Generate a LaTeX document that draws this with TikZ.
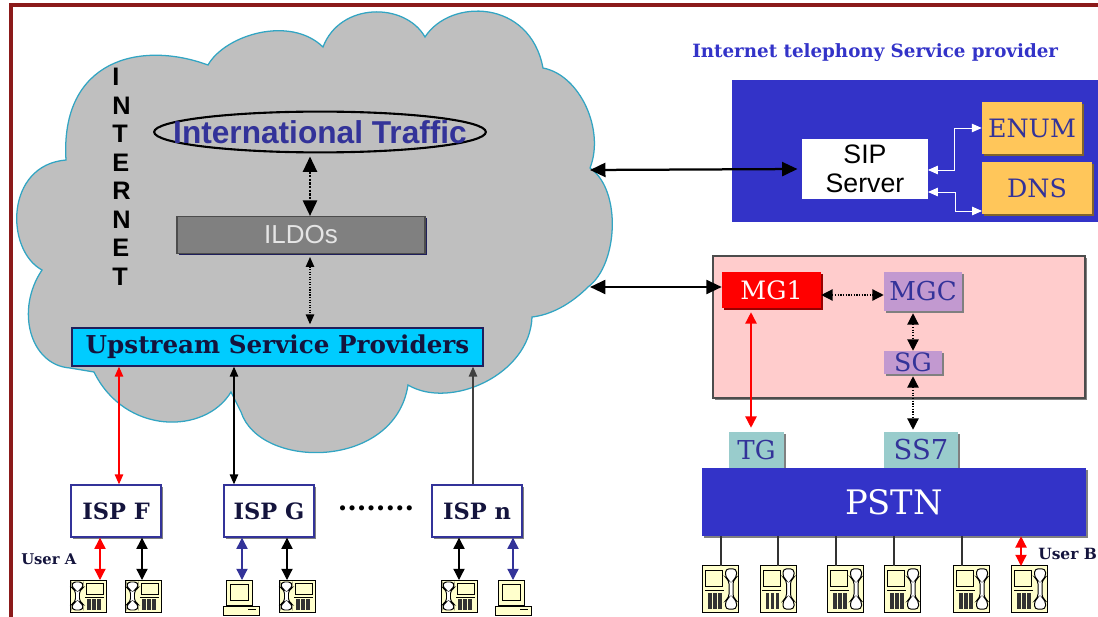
\documentclass[tikz,border=0pt]{standalone}
\usepackage{fontspec}
\setmainfont{DejaVu Serif}
\setsansfont{Liberation Sans}
\usetikzlibrary{positioning,calc,arrows.meta,shadows,shapes.geometric}
\definecolor{frame}{RGB}{139, 26, 26}
\definecolor{cloudfill}{RGB}{191, 191, 191}
\definecolor{cloudline}{RGB}{50, 165, 195}
\definecolor{theme}{RGB}{51, 51, 200}
\definecolor{ink}{RGB}{51, 51, 153}
\definecolor{orangebox}{RGB}{255, 198, 90}
\definecolor{pinkbox}{RGB}{255, 204, 204}
\definecolor{lilacbox}{RGB}{194, 153, 208}
\definecolor{tealbox}{RGB}{153, 204, 204}
\definecolor{skybox}{RGB}{0, 204, 255}
\definecolor{phonefill}{RGB}{255, 255, 204}
\def\px{0.025cm}
\tikzset{
    box/.style n args={2}{minimum width=#1*\px,minimum height=#2*\px,inner sep=0pt,align=center},
    shadowed/.style={drop shadow={shadow xshift=1.8*\px,shadow yshift=-1.8*\px,opacity=1,fill=#1}},
    isp/.style={box={90}{52},draw=ink,line width=1pt,fill=white,shadowed=gray,font=\fontsize{16}{18}\selectfont\bfseries,text=ink!40!black},
    thinarrow/.style={{Triangle[length=7pt,width=6pt]}-{Triangle[length=7pt,width=6pt]},line width=.8pt},
    midarrow/.style={{Triangle[length=8pt,width=8pt]}-{Triangle[length=8pt,width=8pt]},line width=.9pt},
    bigarrow/.style={{Triangle[length=11pt,width=10pt]}-{Triangle[length=11pt,width=10pt]},line width=1.6pt},
    whitearrow/.style={{Triangle[length=7pt,width=6pt]}-{Triangle[length=7pt,width=6pt]},white,line width=.7pt},
    phone/.pic={
        \draw[fill=phonefill,line width=.7pt] (-18,-16) rectangle (18,16);
        \draw[fill=white,line width=.7pt,rounded corners=2.5] (-16,-14) -- (-5,-14) -- (-5,-8) -- (-8.5,-6) -- (-8.5,6) -- (-5,8) -- (-5,14) -- (-16,14) -- (-16,8) -- (-12.5,6) -- (-12.5,-6) -- (-16,-8) -- cycle;
        \draw[fill=phonefill,line width=.7pt] (-2,-13) rectangle (15,-2);
        \draw[line width=.7pt] (-3,1) -- (16,1);
        \foreach \k in {-1,4,9}
            \fill[black!80] (\k,3) rectangle (\k+3.5,14);
    },
    computer/.pic={
        \draw[fill=phonefill,line width=.7pt] (-15,-17) rectangle (11,8);
        \draw[fill=phonefill,line width=.7pt] (-11,-13) rectangle (7,3);
        \draw[fill=phonefill,line width=.7pt] (-18,9) rectangle (18,18);
        \draw[line width=.7pt] (7,12) -- (15,12);
    }
}

\begin{document}
\begin{tikzpicture}[x=0.025cm,y=-0.025cm]
    \useasboundingbox (0,0) rectangle (1098,617);
    % frame
    \draw[frame,line width=2.2pt] (11,617) -- (11,5) -- (1098,5);

    % cloud
    \draw[fill=cloudfill,draw=cloudline,line width=.9pt] (208,65)
        .. controls (225,35) and (290,15) .. (323,47)
        .. controls (340,2) and (405,2) .. (425,37)
        .. controls (450,-2) and (530,-1) .. (543,68)
        .. controls (580,75) and (605,130) .. (590,168)
        .. controls (622,190) and (618,265) .. (588,287)
        .. controls (570,305) and (550,315) .. (532,317)
        .. controls (530,375) and (450,410) .. (408,385)
        .. controls (395,470) and (260,470) .. (241,412)
        -- (231,392)
        .. controls (205,435) and (125,435) .. (94,372)
        -- (70,368)
        .. controls (30,365) and (15,310) .. (42,270)
        .. controls (5,250) and (5,165) .. (66,160)
        .. controls (60,60) and (140,40) .. (208,65) -- cycle;
    \coordinate (cloudsip) at (590,170);
    \coordinate (cloudmg) at (590,287);

    \node[align=left,inner sep=0pt,anchor=north west,font=\sffamily\bfseries\fontsize{18}{20.3}\selectfont] (internet) at (112,68) {I\\N\\T\\E\\R\\N\\E\\T};
    \node[ellipse,draw,line width=1.5pt,inner xsep=-21pt,inner ysep=2pt,text=ink,font=\sffamily\bfseries\fontsize{22.5}{24}\selectfont] (traffic) at (320,132) {International Traffic};
    \node[box={248}{37},draw=black!70,line width=.8pt,fill=black!50,shadowed=ink!60!black,text=white!90!black,font=\sffamily\fontsize{18.5}{20}\selectfont] (ildos) at (301,235) {ILDOs};
    \node[box={411}{38},draw=ink!60!black,line width=1pt,fill=skybox,font=\fontsize{17.5}{19}\selectfont\bfseries,text=ink!40!black] (upstream) at (277.5,347) {Upstream Service Providers};

    % isp row
    \node[isp] (ispf) at (116,511) {ISP F};
    \node[isp] (ispg) at (269,511) {ISP G};
    \node[isp] (ispn) at (477,511) {ISP n};
    \node[inner sep=0pt,font=\fontsize{19.5}{20}\selectfont\bfseries] (dots) at (376,508) {........};
    \node[inner sep=0pt,anchor=west,text=ink!40!black,font=\fontsize{10.5}{12}\selectfont\bfseries] (usera) at (21,559) {User A};

    \pic at (88,596) {phone};
    \pic at (143,596) {phone};
    \pic at (241,597) {computer};
    \pic at (297,596) {phone};
    \pic at (459,596) {phone};
    \pic at (513,597) {computer};
    \coordinate (pa) at (100,580);
    \coordinate (pb) at (142,580);
    \coordinate (pc) at (242,580);
    \coordinate (pd) at (287,580);
    \coordinate (pe) at (459,580);
    \coordinate (pf) at (513,580);

    \draw[thinarrow,red] (ispf.north -| 119,0) -- (upstream.south -| 119,0);
    \draw[thinarrow] (ispg.north -| 234,0) -- (upstream.south -| 234,0);
    \draw[-{Triangle[length=7pt,width=6pt]},line width=.8pt,black!75] (ispn.north -| 473,0) -- (upstream.south -| 473,0);
    \draw[midarrow,red] (ispf.south -| pa) -- (pa);
    \draw[midarrow] (ispf.south -| pb) -- (pb);
    \draw[midarrow,ink] (ispg.south -| pc) -- (pc);
    \draw[midarrow] (ispg.south -| pd) -- (pd);
    \draw[midarrow] (ispn.south -| pe) -- (pe);
    \draw[midarrow,ink] (ispn.south -| pf) -- (pf);

    % inside cloud
    \draw[bigarrow,densely dotted] ($(traffic.south -| 310,0)+(0,3)$) -- (ildos.north -| 310,0);
    \draw[thinarrow,densely dotted] ($(ildos.south -| 310,0)+(0,3)$) -- ($(upstream.north -| 310,0)+(0,-3)$);

    % telephony provider
    \node[anchor=west,inner sep=0pt,text=theme,font=\fontsize{13}{15}\selectfont\bfseries] (title) at (692,53) {Internet telephony Service provider};
    \node[box={366}{142},fill=theme] (provider) at (915,151) {};
    \node[box={126}{60},fill=white,font=\sffamily\fontsize{19}{21}\selectfont] (sip) at (865,169) {SIP\\Server};
    \node[box={100}{52},fill=orangebox,shadowed=orangebox!50!black,text=ink,font=\fontsize{18}{20}\selectfont] (enum) at (1032,128) {ENUM};
    \node[box={110}{52},fill=orangebox,shadowed=orangebox!50!black,text=ink,font=\fontsize{18}{20}\selectfont] (dns) at (1037,188) {DNS};
    \coordinate (sipa) at (928,170);
    \coordinate (sipb) at (928,192);
    \coordinate (dnsa) at (982,211);
    \draw[whitearrow] (sipa) -| ($(sipa)!.5!(enum.west)$) |- (enum.west);
    \draw[whitearrow] (sipb) -| ($(sipb)!.5!(dnsa)$) |- (dnsa);
    \draw[bigarrow,shorten >=3pt] (cloudsip) -- (sip.west);

    % gateway
    \node[box={372}{142},draw=black!70,line width=1.2pt,fill=pinkbox,shadowed=gray] (gateway) at (899,327) {};
    \node[box={99}{36},fill=red,shadowed=red!60!black,text=white!90!pink,font=\fontsize{18}{20}\selectfont] (mg) at (771.5,290) {MG1};
    \node[box={78}{39},fill=lilacbox,shadowed=gray,text=ink,font=\fontsize{18.5}{20}\selectfont] (mgc) at (923,291.5) {MGC};
    \node[box={58}{23},fill=lilacbox,shadowed=gray,text=ink,font=\fontsize{18}{20}\selectfont] (sg) at (913,362.5) {SG};
    \node[box={74}{36},fill=tealbox,shadowed=gray,text=ink,font=\fontsize{19.5}{21}\selectfont] (ssseven) at (921,450) {SS7};
    \node[box={55}{36},fill=tealbox,shadowed=gray,text=ink,font=\fontsize{18.5}{20}\selectfont] (tg) at (756.5,450) {TG};
    \node[box={384}{68},fill=theme,shadowed=gray,text=white,font=\fontsize{24}{26}\selectfont] (pstn) at (894,502) {PSTN};
    \draw[bigarrow] (cloudmg) -- (mg.west |- cloudmg);
    \draw[midarrow,densely dotted] (mg.east |- 0,295) -- (mgc.west |- 0,295);
    \draw[midarrow,densely dotted] ($(mgc.south -| sg)+(0,2)$) -- (sg.north);
    \draw[midarrow,densely dotted] ($(sg.south)+(0,2)$) -- ($(ssseven.north -| sg)+(0,-2)$);
    \draw[midarrow,red,line width=1pt] ($(mg.south -| 751,0)+(0,4)$) -- ($(tg.north -| 751,0)+(0,-4)$);

    % phones under pstn
    \foreach \name/\cx/\lx in {qa/720.5/721,qb/778/778,qc/845.5/836,qd/902.5/894,qe/971.5/962,qf/1029.5/1021} {
        \pic[xscale=-1,yscale=1.44] at (\cx,589) {phone};
        \coordinate (\name) at (\lx,566);
    }
    \foreach \name in {qa,qb,qc,qd,qe}
        \draw[line width=.8pt,black!80] (pstn.south -| \name) -- (\name);
    \draw[midarrow,red] (pstn.south -| qf) -- (qf);
    \node[anchor=west,inner sep=0pt,text=ink!40!black,font=\fontsize{11}{13}\selectfont\bfseries] (userb) at (1038,554) {User B};
\end{tikzpicture}
\end{document}
